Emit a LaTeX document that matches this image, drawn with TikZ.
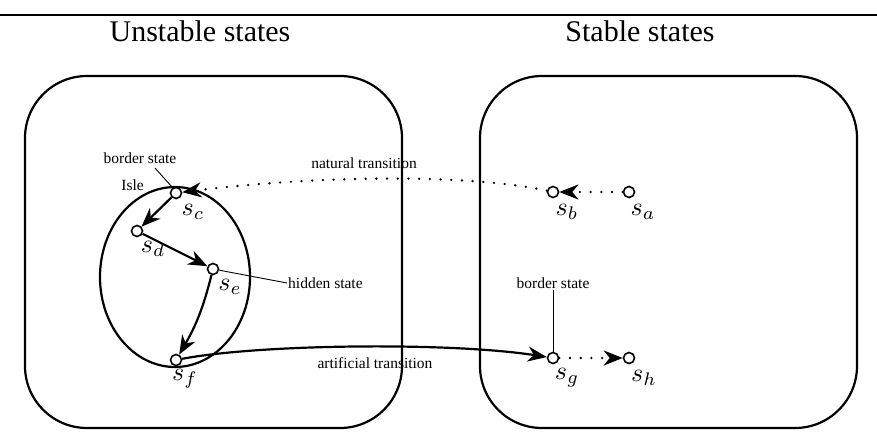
\documentclass[tikz,border=0pt]{standalone}
\usepackage{graphicx}
\usepackage{fontspec}
\setmainfont{Liberation Serif}
\usetikzlibrary{arrows.meta}
\newcommand{\stlabel}[1]{\scalebox{2.6}{$s_{#1}$}}
\begin{document}
\begin{tikzpicture}[x=1pt,y=-1pt,
  region/.style={draw,line width=2.2pt,rounded corners=62pt},
  st/.style={circle,draw,fill=white,line width=1.6pt,minimum size=11pt,inner sep=0pt},
  sub/.style={inner sep=0pt},
  title/.style={font=\fontsize{30}{34}\selectfont,inner sep=0pt},
  note/.style={font=\fontsize{15.5}{17}\selectfont,inner sep=1pt},
  lead/.style={line width=0.9pt},
  tip/.style={-{Stealth[length=19pt,width=15pt,inset=6pt]}},
  move/.style={tip,line width=2.2pt},
  drift/.style={tip,line width=2.6pt,line cap=round,dash pattern=on 0pt off 10.7pt},
]
\useasboundingbox (0,0) rectangle (877,441);
\draw[line width=1.4pt] (0,15) -- (877,15);

% the two regions
\node[title] (tu) at (200,31) {Unstable states};
\node[title] (ts) at (640,31) {Stable states};
\draw[region] (25,76) rectangle (402,428);
\draw[region] (480,76) rectangle (857,428);

% the isle
\draw[line width=2.2pt] (175,277) ellipse [x radius=75, y radius=90];
\node[note,anchor=east] (isle) at (145,185) {Isle};

% states
\node[st] (sc) at (176,193) {};
\node[st] (sd) at (137,231) {};
\node[st] (se) at (213,269) {};
\node[st] (sf) at (176,360) {};
\node[st] (sb) at (553,192) {};
\node[st] (sa) at (629,192) {};
\node[st] (sg) at (553,358) {};
\node[st] (sh) at (629,358) {};

\node[sub] (lc) at (193,212) {\stlabel{c}};
\node[sub] (ld) at (153,249) {\stlabel{d}};
\node[sub] (le) at (230,287) {\stlabel{e}};
\node[sub] (lf) at (185,379) {\stlabel{f}};
\node[sub] (lb) at (567,212) {\stlabel{b}};
\node[sub] (la) at (643,212) {\stlabel{a}};
\node[sub] (lg) at (567,378) {\stlabel{g}};
\node[sub] (lh) at (644,378) {\stlabel{h}};

% annotations
\node[note] (bs1) at (140,158) {border state};
\coordinate (bs1e) at (172,187);
\draw[lead] (155,168) -- (bs1e);
\node[note,anchor=west] (hs) at (287,283) {hidden state};
\draw[lead] (se) -- (hs.west);
\node[note] (bs2) at (553,283) {border state};
\draw[lead] (bs2.south) -- (sg);
\node[note] (nt) at (364,163) {natural transition};
\node[note] (at) at (375,363) {artificial transition};

% transitions
\draw[drift] (sa) -- (sb);
\draw[drift] (sb) .. controls (470,174) and (320,175) .. (sc);
\draw[move] (sc) -- (sd);
\draw[move] (sd) -- (se);
\draw[move] (se) to[bend left=8] (sf);
\draw[move] (sf) .. controls (260,344) and (450,342) .. (sg);
\draw[drift] (sg) -- (sh);
\end{tikzpicture}
\end{document}
